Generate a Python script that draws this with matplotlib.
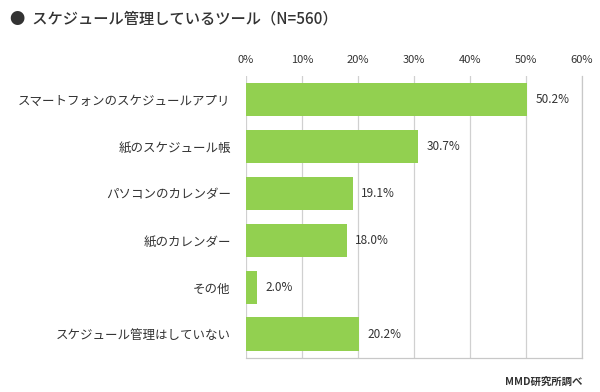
import matplotlib
matplotlib.use('Agg')
import matplotlib.pyplot as plt
import numpy as np

plt.rcParams['font.family'] = ['Noto Sans CJK JP', 'DejaVu Sans']

# data
categories = ['スマートフォンのスケジュールアプリ', '紙のスケジュール帳', 'パソコンのカレンダー',
              '紙のカレンダー', 'その他', 'スケジュール管理はしていない']
values = [50.2, 30.7, 19.1, 18.0, 2.0, 20.2]
xticks = [0, 10, 20, 30, 40, 50, 60]

fig = plt.figure(figsize=(6, 3.92), dpi=100)
ax = fig.add_axes([0.41, 0.087, 0.56, 0.719])

y = np.arange(len(categories))
ax.barh(y, values, height=0.72, color='#92D050', zorder=3)
ax.set_ylim(len(categories) - 0.5, -0.5)
ax.set_xlim(0, 60)
ax.set_xticks(xticks)
ax.set_xticklabels([f'{t}%' for t in xticks], fontsize=8, color='#333333')
ax.xaxis.tick_top()
ax.set_yticks(y)
ax.set_yticklabels(categories, fontsize=9, color='#333333')
ax.tick_params(length=0, pad=11)
ax.tick_params(axis='x', pad=8)
ax.grid(axis='x', color='#d0d0d0', linewidth=0.9, zorder=0)
for s in ['top', 'left']:
    ax.spines[s].set_visible(False)
for s in ['right', 'bottom']:
    ax.spines[s].set_color('#c8c8c8')
    ax.spines[s].set_linewidth(0.9)

for yi, v in zip(y, values):
    ax.text(v + 1.5, yi, f'{v:.1f}%', va='center', ha='left', fontsize=8.5, color='#333333')

fig.text(0.017, 0.952, '●  スケジュール管理しているツール（N=560）', fontsize=11,
         fontweight='medium', color='#333333', va='center', ha='left')
fig.text(0.97, 0.025, 'MMD研究所調べ', fontsize=7.5, fontweight='bold',
         color='#333333', va='center', ha='right')

fig.savefig('out.png', dpi=100)
